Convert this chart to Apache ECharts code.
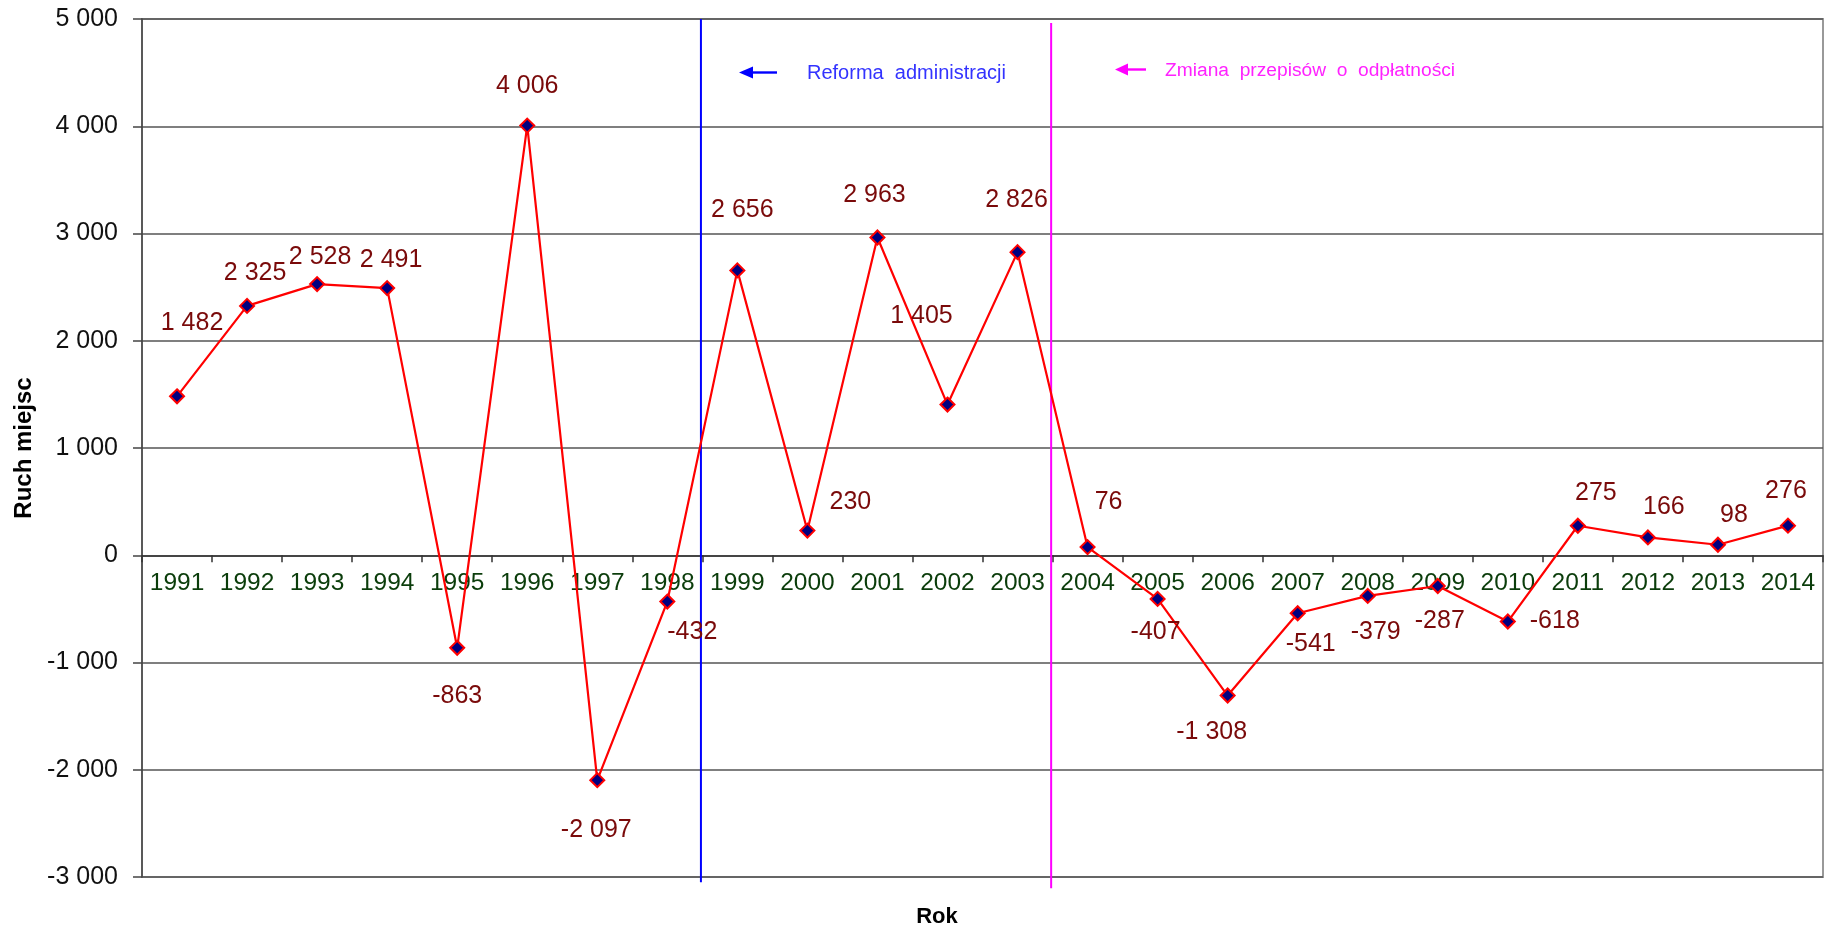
<!DOCTYPE html>
<html><head><meta charset="utf-8">
<script src="https://cdn.jsdelivr.net/npm/echarts@6/dist/echarts.min.js"></script>
<style>html,body{margin:0;padding:0;background:#fff}#c{width:1836px;height:931px}</style>
</head><body><div id="c"></div>
<script>
const years = ['1991','1992','1993','1994','1995','1996','1997','1998','1999','2000','2001','2002','2003','2004','2005','2006','2007','2008','2009','2010','2011','2012','2013','2014'];
const values = [1482,2325,2528,2491,-863,4006,-2097,-432,2656,230,2963,1405,2826,76,-407,-1308,-541,-379,-287,-618,275,166,98,276];
const yMin = -3000, yMax = 5000, yStep = 1000;
// label offsets (px) relative to each point
const labelOffsets = [[15,-73],[8,-33],[3,-27],[4,-28],[0,48],[0,-39],[-1,50],[25,31],[5,-60],[43,-28],[-3,-42],[-26,-88],[-1,-52],[21,-45],[-2,33],[-16,37],[13,31],[8,36],[2,35],[47,0],[18,-33],[16,-30],[16,-30],[-2,-35]];
// vertical event lines, in category-slot units on a hidden 0..24 axis
const reformLine = [[7.98, 5000],[7.98, -3050]];
const feeLine = [[12.98, 4963],[12.98, -3105]];
const reformText = 'Reforma  administracji';
const feeText = 'Zmiana  przepisów  o  odpłatności';

const FONT = '"Liberation Sans", Arial, sans-serif';
function fmt(v){
  const s = Math.abs(v).toString().replace(/\B(?=(\d{3})+(?!\d))/g,' ');
  return (v<0?'-':'') + s;
}
const chart = echarts.init(document.getElementById('c'), null, {renderer:'canvas'});
chart.setOption({
  animation:false,
  backgroundColor:'#fff',
  grid:{left:142, top:19, right:13, bottom:54, outerBoundsMode:'none', containLabel:false,
        show:true, borderColor:'#999', borderWidth:2, backgroundColor:'transparent'},
  xAxis:[{
    type:'category', data:years, boundaryGap:true, position:'bottom', offset:0,
    axisLine:{onZero:false, lineStyle:{color:'#333', width:1.5}},
    axisTick:{show:true, length:7, lineStyle:{color:'#333', width:1.5}},
    axisLabel:{color:'#0b3d0b', fontSize:24.5, fontFamily:FONT, margin:15, interval:0},
    splitLine:{show:false}
  },{
    type:'value', min:0, max:24, show:false
  }],
  yAxis:{
    type:'value', min:yMin, max:yMax, interval:yStep,
    name:'Ruch miejsc', nameLocation:'middle', nameGap:106, nameRotate:90,
    nameTextStyle:{color:'#000', fontSize:24, fontWeight:'bold', fontFamily:FONT},
    axisLine:{show:true, lineStyle:{color:'#444', width:1.5}},
    axisTick:{show:true, length:9, inside:false, lineStyle:{color:'#444', width:1.5}},
    axisLabel:{color:'#111', fontSize:25, fontFamily:FONT, margin:24, formatter:fmt},
    splitLine:{show:true, lineStyle:{color:'#555', width:1.5}}
  },
  series:[{
    type:'line', name:'reform', xAxisIndex:1, data:reformLine, clip:false,
    symbol:'none', silent:true, z:1, lineStyle:{color:'#0000ff', width:2}
  },{
    type:'line', name:'fee', xAxisIndex:1, data:feeLine, clip:false,
    symbol:'none', silent:true, z:1, lineStyle:{color:'#ff00ff', width:2}
  },{
    type:'line', xAxisIndex:0, data:values.map((v,i)=>({value:v, label:{offset:labelOffsets[i]}})),
    z:3,
    lineStyle:{color:'#ff0000', width:2.2},
    symbol:'diamond', symbolSize:14,
    itemStyle:{color:'#000080', borderColor:'#ff0000', borderWidth:2},
    label:{show:true, position:'inside', color:'#7a0a0a', fontSize:25, fontFamily:FONT, formatter:p=>fmt(p.value)}
  }],
  graphic:[
    {type:'line', shape:{x1:750, y1:72.5, x2:777, y2:72.5}, style:{stroke:'#0000ff', lineWidth:2.4}},
    {type:'polygon', shape:{points:[[739,72.5],[753,66.5],[753,78.5]]}, style:{fill:'#0000ff'}},
    {type:'text', x:807, y:73, style:{text:reformText, font:'20px '+FONT, fill:'#3333ff', verticalAlign:'middle', align:'left'}},
    {type:'line', shape:{x1:1126, y1:69.5, x2:1146, y2:69.5}, style:{stroke:'#ff00ff', lineWidth:2.4}},
    {type:'polygon', shape:{points:[[1115,69.5],[1128,63.5],[1128,75.5]]}, style:{fill:'#ff00ff'}},
    {type:'text', x:1165, y:71, style:{text:feeText, font:'19.2px '+FONT, fill:'#ff22ff', verticalAlign:'middle', align:'left'}},
    {type:'text', x:937, y:917, style:{text:'Rok', font:'bold 22px '+FONT, fill:'#000', verticalAlign:'middle', align:'center'}}
  ]
});
// move the category axis (line, ticks, labels) up to the value 0
const yZero = chart.convertToPixel({yAxisIndex:0}, 0);
const yBottom = chart.convertToPixel({yAxisIndex:0}, yMin);
chart.setOption({xAxis:[{offset: -(yBottom - yZero)}, {}]});
</script></body></html>
